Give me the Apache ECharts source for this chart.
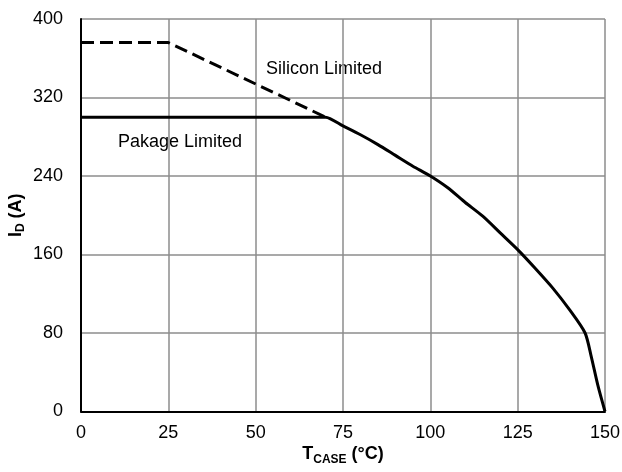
<!DOCTYPE html>
<html>
<head>
<meta charset="utf-8">
<script src="https://cdn.jsdelivr.net/npm/echarts@6/dist/echarts.min.js"></script>
<style>html,body{margin:0;padding:0;background:#fff}#c{width:622px;height:472px}</style>
</head>
<body>
<div id="c"></div>
<script>
const xTicks = [0, 25, 50, 75, 100, 125, 150];
const yTicks = [0, 80, 160, 240, 320, 400];
const siliconLimited = [[0, 376], [25, 376], [70, 300]];
const packageLimited = [
  [0, 300], [69, 300], [70, 300], [75, 291], [80, 282], [85, 272], [90, 261],
  [95, 250], [100, 240], [105, 228], [110, 213], [115, 199], [120, 182],
  [125, 165], [130, 146], [135, 126], [140, 103], [144.3, 80],
  [146, 57], [148, 26], [150, 0]
];
const labels = { silicon: 'Silicon Limited', pkg: 'Pakage Limited' };

const chart = echarts.init(document.getElementById('c'));
const FONT = 'Liberation Sans, Arial, sans-serif';
chart.setOption({
  animation: false,
  grid: { left: 81, right: 17, top: 19, bottom: 60.5, containLabel: false, outerBoundsMode: 'none' },
  xAxis: {
    type: 'value', min: xTicks[0], max: xTicks[xTicks.length - 1], interval: 25,
    axisLine: { show: true, lineStyle: { color: '#000', width: 2 } },
    axisTick: { show: false },
    splitLine: { show: true, lineStyle: { color: '#8c8c8c', width: 1.5 } },
    axisLabel: { color: '#000', fontSize: 18, fontFamily: FONT, margin: 13 },
    name: '{b|T}{s|CASE}{b| (°C)}',
    nameLocation: 'middle', nameGap: 32, nameMoveOverlap: false,
    nameTextStyle: {
      rich: {
        b: { fontSize: 18, fontWeight: 'bold', color: '#000', fontFamily: FONT, lineHeight: 22, verticalAlign: 'middle' },
        s: { fontSize: 12, fontWeight: 'bold', color: '#000', fontFamily: FONT, lineHeight: 12, verticalAlign: 'bottom' }
      }
    }
  },
  yAxis: {
    type: 'value', min: yTicks[0], max: yTicks[yTicks.length - 1], interval: 80,
    axisLine: { show: true, lineStyle: { color: '#000', width: 2 } },
    axisTick: { show: false },
    splitLine: { show: true, lineStyle: { color: '#8c8c8c', width: 1.5 } },
    axisLabel: { color: '#000', fontSize: 18, fontFamily: FONT, margin: 18 },
    name: '{b|I}{s|D}{b| (A)}',
    nameLocation: 'middle', nameGap: 54, nameRotate: 90, nameMoveOverlap: false,
    nameTextStyle: {
      rich: {
        b: { fontSize: 18, fontWeight: 'bold', color: '#000', fontFamily: FONT, lineHeight: 22, verticalAlign: 'middle' },
        s: { fontSize: 12, fontWeight: 'bold', color: '#000', fontFamily: FONT, lineHeight: 12, verticalAlign: 'bottom' }
      }
    }
  },
  series: [
    {
      type: 'line', data: siliconLimited, symbol: 'none', z: 2,
      lineStyle: { color: '#000', width: 3, type: [13, 6] }
    },
    {
      type: 'line', data: packageLimited, symbol: 'none', z: 3,
      smooth: 0.25,
      lineStyle: { color: '#000', width: 3 }
    }
  ],
  graphic: [
    { type: 'text', left: 266, top: 60, style: { text: labels.silicon, font: '18px ' + FONT, fill: '#000' } },
    { type: 'text', left: 118, top: 133, style: { text: labels.pkg, font: '18px ' + FONT, fill: '#000' } }
  ]
});
</script>
</body>
</html>
